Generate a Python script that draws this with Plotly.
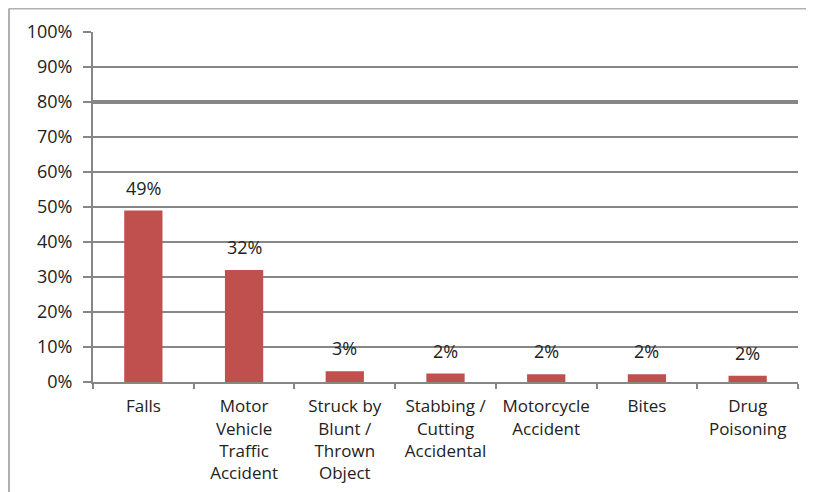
import plotly.graph_objects as go

categories = [
    "Falls",
    "Motor<br>Vehicle<br>Traffic<br>Accident",
    "Struck by<br>Blunt /<br>Thrown<br>Object",
    "Stabbing /<br>Cutting<br>Accidental",
    "Motorcycle<br>Accident",
    "Bites",
    "Drug<br>Poisoning",
]
values = [49, 32, 3.1, 2.4, 2.2, 2.2, 1.8]
value_labels = ["49%", "32%", "3%", "2%", "2%", "2%", "2%"]
y_ticks = [0, 10, 20, 30, 40, 50, 60, 70, 80, 90, 100]
y_tick_labels = ["0%", "10%", "20%", "30%", "40%", "50%", "60%", "70%", "80%", "90%", "100%"]

# the page body adds an 8px offset, so the figure is laid out 8px up/left
W, H = 814, 492
L, R, T, B = 85, 24, 24, 118
pw, ph = W - L - R, H - T - B

def px_x(p):
    return (p - L) / pw

def px_y(p):
    return (H - B - p) / ph

GRID = "#878787"
TXT = "#222222"
FONT = "Open Sans"
BORDER = "#b0b0b0"

fig = go.Figure(
    go.Bar(
        x=categories,
        y=values,
        marker=dict(color="#C0504D", line=dict(width=0)),
        hoverinfo="skip",
    )
)

annotations = [
    dict(x=c, y=v, xref="x", yref="y", text=t, showarrow=False,
         yanchor="bottom", xanchor="center", yshift=9,
         font=dict(family=FONT, size=18, color=TXT))
    for c, v, t in zip(categories, values, value_labels)
]

fig.update_layout(
    width=W,
    height=H,
    margin=dict(l=L, r=R, t=T, b=B),
    paper_bgcolor="white",
    plot_bgcolor="white",
    bargap=0.62,
    showlegend=False,
    font=dict(family=FONT, size=17, color=TXT),
    annotations=annotations,
    shapes=[
        # chart border: left and top edges (others fall outside the view)
        dict(type="line", xref="paper", yref="paper",
             x0=px_x(1), x1=px_x(1), y0=px_y(0.5), y1=px_y(H + 20),
             line=dict(color=BORDER, width=2), layer="below"),
        dict(type="line", xref="paper", yref="paper",
             x0=px_x(1), x1=px_x(W + 20), y0=px_y(0.5), y1=px_y(0.5),
             line=dict(color=BORDER, width=2), layer="below"),
        # heavier 80% gridline
        dict(type="line", xref="paper", yref="y", x0=0, x1=1, y0=80, y1=80,
             line=dict(color=GRID, width=4), layer="below"),
    ],
)

fig.update_yaxes(
    range=[0, 100],
    tickmode="array",
    tickvals=y_ticks,
    ticktext=y_tick_labels,
    showgrid=True,
    gridcolor=GRID,
    gridwidth=2,
    showline=True,
    linecolor=GRID,
    linewidth=2,
    ticks="outside",
    ticklen=8,
    tickwidth=2,
    tickcolor=GRID,
    ticklabelstandoff=7,
    tickfont=dict(family=FONT, size=18, color=TXT),
    zeroline=False,
    fixedrange=True,
)
fig.update_xaxes(
    showline=True,
    linecolor=GRID,
    linewidth=2,
    ticks="outside",
    tickson="boundaries",
    ticklen=5,
    tickwidth=2,
    tickcolor=GRID,
    ticklabelstandoff=8,
    tickfont=dict(family=FONT, size=17, color=TXT),
    showgrid=False,
    fixedrange=True,
)

fig.write_html("out.html")
